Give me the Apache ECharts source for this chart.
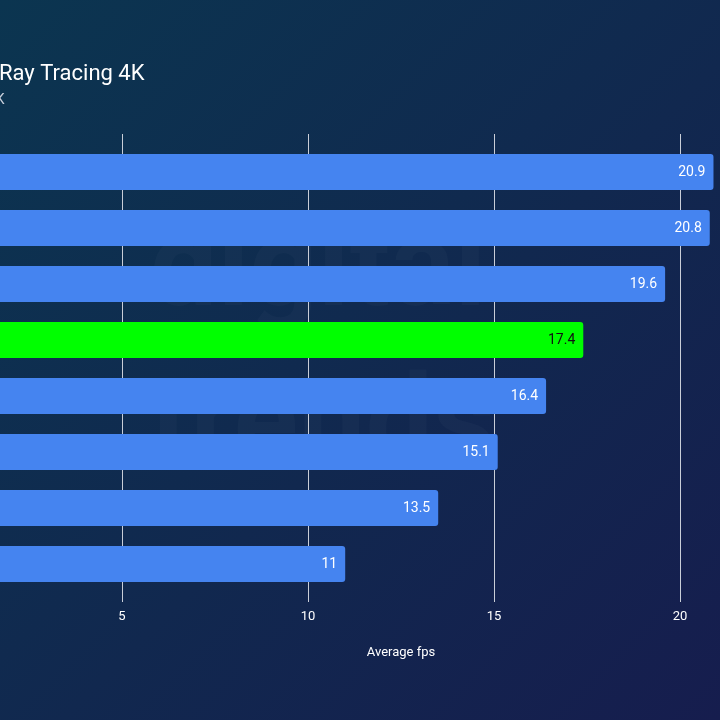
<!DOCTYPE html>
<html><head><meta charset="utf-8">
<script src="https://cdn.jsdelivr.net/npm/echarts@6/dist/echarts.min.js"></script>
<style>html,body{margin:0;padding:0;background:#0f2a50}#c{width:720px;height:720px}</style>
</head><body><div id="c"></div>
<script>
const categories = ['GPU A','GPU B','GPU C','GPU D','GPU E','GPU F','GPU G','GPU H'];
const values = [20.9, 20.8, 19.6, 17.4, 16.4, 15.1, 13.5, 11];
const highlight = [false, false, false, true, false, false, false, false];
const titleText = 'Ray Tracing 4K';
const subtitleText = '4K';
const axisName = 'Average fps';

const chart = echarts.init(document.getElementById('c'));
const data = values.map((v, i) => ({
  value: v,
  itemStyle: { color: highlight[i] ? '#00ff00' : '#4584f0' },
  label: { color: highlight[i] ? '#111111' : '#ffffff' }
}));
const font = 'Roboto, "Noto Sans", sans-serif';
chart.setOption({
  backgroundColor: new echarts.graphic.LinearGradient(0, 0, 1, 1, [
    { offset: 0, color: '#0b3550' },
    { offset: 1, color: '#161d4e' }
  ]),
  animation: false,
  title: [
    { text: titleText, left: -1, top: 63, padding: 0, textStyle: { color: '#ffffff', fontSize: 22, fontWeight: 'normal', fontFamily: font } },
    { text: subtitleText, left: -12, top: 93, padding: 0, textStyle: { color: '#c9d0dc', fontSize: 14, fontWeight: 'normal', fontFamily: font } }
  ],
  graphic: [
    { type: 'text', left: 150, top: 215, z: -10, style: { text: 'digital', fill: 'rgba(255,255,255,0.022)', font: 'bold 120px ' + font } },
    { type: 'text', left: 150, top: 370, z: -10, style: { text: 'trends', fill: 'rgba(255,255,255,0.022)', font: 'bold 120px ' + font } }
  ],
  grid: { left: -64, top: 144, width: 930, height: 448, containLabel: false, outerBoundsMode: 'none' },
  xAxis: [{
    type: 'value', min: 0, max: 25, interval: 5, position: 'bottom',
    axisLine: { show: false },
    axisTick: { show: true, length: 10, lineStyle: { color: '#c9ced8', width: 1 } },
    splitLine: { show: true, lineStyle: { color: '#c9ced8', width: 1 } },
    axisLabel: { color: '#ffffff', fontSize: 13, margin: 18, fontFamily: font },
    name: axisName, nameLocation: 'middle', nameGap: 54,
    nameTextStyle: { color: '#ffffff', fontSize: 13, fontFamily: font }
  }, {
    type: 'value', min: 0, max: 25, interval: 5, position: 'top',
    axisLine: { show: false },
    axisTick: { show: true, length: 10, lineStyle: { color: '#c9ced8', width: 1 } },
    splitLine: { show: false },
    axisLabel: { show: false }
  }],
  yAxis: {
    type: 'category', data: categories, inverse: true,
    axisLine: { show: false }, axisTick: { show: false }, axisLabel: { show: false }
  },
  series: [{
    type: 'bar', data: data, barWidth: 36, z: 3,
    itemStyle: { borderRadius: 3 },
    label: { show: true, position: 'insideRight', distance: 8, fontSize: 14, fontFamily: font }
  }]
});
</script></body></html>
